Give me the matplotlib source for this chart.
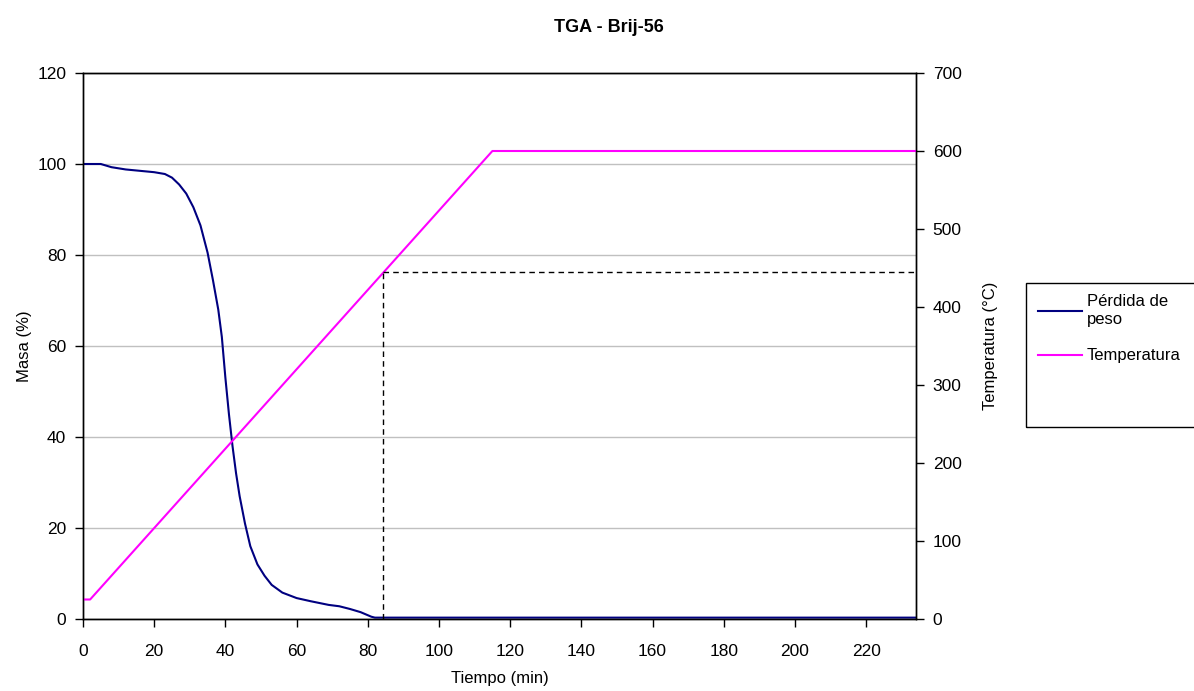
import matplotlib.pyplot as plt
from matplotlib.patches import Rectangle

plt.rcParams['font.family'] = ['Liberation Sans', 'DejaVu Sans']

# mass loss curve (min, %)
t_mass = [0, 5, 8, 12, 16, 20, 23, 25, 27, 29, 31, 33, 35, 36.5, 38, 39, 40, 41, 42,
          43, 44, 45.5, 47, 49, 51, 53, 56, 60, 64, 69, 72, 75, 78, 81, 82, 234]
mass = [100, 100, 99.3, 98.8, 98.5, 98.2, 97.8, 97.0, 95.5, 93.5, 90.5, 86.5, 80.5,
        74.5, 68, 62, 53, 45, 38, 32, 27, 21, 16, 12, 9.5, 7.5, 5.8, 4.6, 3.9, 3.1,
        2.8, 2.2, 1.5, 0.5, 0.3, 0.3]

# temperature program (min, °C)
t_temp = [0, 2, 115, 234]
temp = [25, 25, 600, 600]

# marked point
t_mark = 84.3
temp_mark = 445

fig = plt.figure(figsize=(11.94, 6.91), dpi=100)
ax = fig.add_axes([83/1194, 72/691, (916-83)/1194, (619-73)/691])
ax2 = ax.twinx()

ax.plot(t_mass, mass, color='#000080', lw=1.5)
ax2.plot(t_temp, temp, color='#ff00ff', lw=1.5)
ax2.plot([t_mark, t_mark], [0, temp_mark], color='black', lw=1, ls=(0, (4, 3)))
ax2.plot([t_mark, 234], [temp_mark, temp_mark], color='black', lw=1, ls=(0, (4, 3)))

ax.set_xlim(0, 234)
ax.set_ylim(0, 120)
ax2.set_ylim(0, 700)
ax.set_xticks(range(0, 221, 20))
ax.set_yticks(range(0, 121, 20))
ax2.set_yticks(range(0, 701, 100))
ax.yaxis.grid(True, color='#c0c0c0', lw=1)
ax.set_axisbelow(True)

for a in (ax, ax2):
    a.tick_params(labelsize=12.5, length=6, width=1, direction='out', pad=6)
    for s in a.spines.values():
        s.set_color('black')
        s.set_linewidth(1)
ax.tick_params(axis='x', pad=12)

ax.set_xlabel('Tiempo (min)', fontsize=12, labelpad=9)
ax.set_ylabel('Masa (%)', fontsize=12)
ax2.set_ylabel('Temperatura (°C)', fontsize=12, labelpad=15)

fig.text(609/1194, 1 - 27/691, 'TGA - Brij-56', fontsize=13, fontweight='bold',
         ha='center', va='center')

# legend frame drawn separately (taller than its content)
fig.patches.append(Rectangle((1026/1194, 1 - 427/691), 200/1194, 144/691,
                             transform=fig.transFigure, fill=False,
                             edgecolor='black', lw=1))
h1, = ax.plot([], [], color='#000080', lw=1.5)
h2, = ax.plot([], [], color='#ff00ff', lw=1.5)
fig.legend([h1, h2], ['Pérdida de\npeso', 'Temperatura'],
           loc='upper left', bbox_to_anchor=(1035/1194, 1 - 291/691),
           borderaxespad=0, frameon=False,
           fontsize=12, handlelength=2.6, handletextpad=0.3,
           labelspacing=1.3, borderpad=0.2)

fig.savefig('out.png', dpi=100)
